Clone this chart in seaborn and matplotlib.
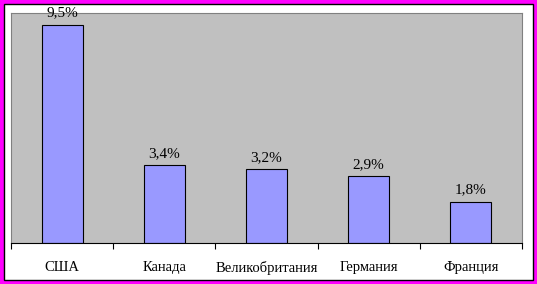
import matplotlib
matplotlib.use("Agg")
import matplotlib.pyplot as plt
import seaborn as sns
import pandas as pd
from matplotlib.patches import Rectangle

countries = ["США", "Канада", "Великобритания", "Германия", "Франция"]
values = [9.5, 3.4, 3.2, 2.9, 1.8]
labels = ["9,5%", "3,4%", "3,2%", "2,9%", "1,8%"]

df = pd.DataFrame({"country": countries, "value": values})

sns.set_style("white")
plt.rcParams["font.family"] = ["Liberation Serif", "DejaVu Serif"]
plt.rcParams["text.color"] = "black"
plt.rcParams["xtick.color"] = "black"

fig = plt.figure(figsize=(5.37, 2.84), dpi=100)
fig.patch.set_facecolor("#FF00FF")
fig.patches.append(Rectangle((4/537, 4/284), 529/537, 276/284, transform=fig.transFigure,
                             facecolor="white", edgecolor="black", linewidth=1, zorder=-10))
ax = fig.add_axes([11/537, 1-243/284, 511/537, 230/284])
ax.set_zorder(5)
ax.set_facecolor("#C0C0C0")
sns.barplot(data=df, x="country", y="value", ax=ax, color="#9999FF", saturation=1,
            width=0.4, edgecolor="black", linewidth=0.8)
ax.set_ylim(0, 10)
ax.set_xlim(-0.5, 4.5)
ax.set_yticks([])
ax.set_xlabel("")
ax.set_ylabel("")
ax.set_xticks(range(len(countries)))
ax.set_xticklabels(countries, fontsize=10.5, color="black")
ax.tick_params(axis="x", which="major", length=0, pad=13, bottom=True)
ax.set_xticks([i - 0.5 for i in range(len(countries) + 1)], minor=True)
ax.tick_params(axis="x", which="minor", length=4, width=0.8, color="black",
               direction="out", bottom=True)
for s in ["left", "top", "right"]:
    ax.spines[s].set_color("#808080")
    ax.spines[s].set_linewidth(0.8)
ax.spines["bottom"].set_color("black")
ax.spines["bottom"].set_linewidth(0.8)
for i, (v, t) in enumerate(zip(values, labels)):
    ax.text(i, v + 0.22, t, ha="center", va="bottom", fontsize=11, color="black")

fig.savefig("out.png", dpi=100, facecolor=fig.get_facecolor())
